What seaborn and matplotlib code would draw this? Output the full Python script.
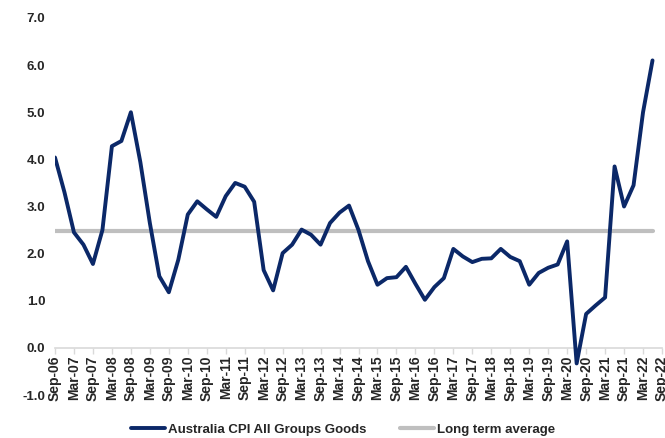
import pandas as pd
import matplotlib.pyplot as plt
import seaborn as sns

# quarterly annual % change, Sep-06 .. Jun-22
quarters = pd.period_range("2006Q3", "2022Q2", freq="Q")
cpi_goods = [
    4.04, 3.30, 2.45, 2.19, 1.78, 2.50, 4.28, 4.39, 5.00, 3.94,
    2.65, 1.52, 1.18, 1.87, 2.83, 3.11, 2.94, 2.78, 3.22, 3.50,
    3.42, 3.10, 1.65, 1.22, 2.01, 2.19, 2.51, 2.40, 2.19, 2.65,
    2.87, 3.02, 2.50, 1.84, 1.34, 1.48, 1.50, 1.72, 1.36, 1.02,
    1.29, 1.48, 2.10, 1.94, 1.82, 1.89, 1.90, 2.10, 1.93, 1.84,
    1.34, 1.59, 1.70, 1.77, 2.26, -0.33, 0.72, 0.90, 1.07, 3.85,
    3.00, 3.45, 5.00, 6.10,
]
long_term_avg = 2.48
tick_labels = pd.period_range("2006Q3", "2022Q3", freq="2Q").strftime("%b-%y").tolist()
y_ticks = [-1, 0, 1, 2, 3, 4, 5, 6, 7]

df = pd.DataFrame({
    "q": range(len(quarters)),
    "goods": cpi_goods,
    "avg": [long_term_avg] * len(quarters),
})

sns.set_style("white")
plt.rcParams["font.family"] = ["Liberation Sans", "DejaVu Sans"]
plt.rcParams["font.weight"] = "bold"

fig = plt.figure(figsize=(6.65, 4.38), dpi=100)
ax = fig.add_axes([55 / 665, 43 / 438, 607 / 665, 377 / 438])

navy = "#0B2868"
grey = "#BFBFBF"
sns.lineplot(data=df, x="q", y="avg", ax=ax, color=grey, linewidth=3.0,
             label="Long term average", zorder=2)
sns.lineplot(data=df, x="q", y="goods", ax=ax, color=navy, linewidth=2.8,
             label="Australia CPI All Groups Goods", zorder=3,
             solid_joinstyle="round", solid_capstyle="round")

ax.set_xlim(0, 64)
ax.set_ylim(-1, 7)
ax.set_xticks(range(0, 65, 2))
ax.set_xticklabels(tick_labels, fontsize=9.5, fontweight="bold")
ax.set_yticks(y_ticks)
ax.set_yticklabels([f"{v:.1f}" for v in y_ticks], fontsize=9.5, fontweight="bold")
ax.set_xlabel("")
ax.set_ylabel("")

for s in ["top", "right", "left"]:
    ax.spines[s].set_visible(False)
ax.spines["bottom"].set_position(("data", 0))
ax.spines["bottom"].set_color("#D9D9D9")
ax.spines["bottom"].set_linewidth(1.2)
ax.tick_params(axis="x", bottom=True, length=4, width=1, color="#D9D9D9",
               pad=1.5, labelrotation=90)
ax.tick_params(axis="y", left=False, pad=3.5)

h, l = ax.get_legend_handles_labels()
ax.legend(h[::-1], l[::-1], loc="upper center", bbox_to_anchor=(0.4745, -0.045),
          ncol=2, frameon=False, handlelength=2.6, handletextpad=0.25,
          columnspacing=2.5, prop={"size": 9.5, "weight": "bold"})

fig.savefig("out.png", dpi=100)
